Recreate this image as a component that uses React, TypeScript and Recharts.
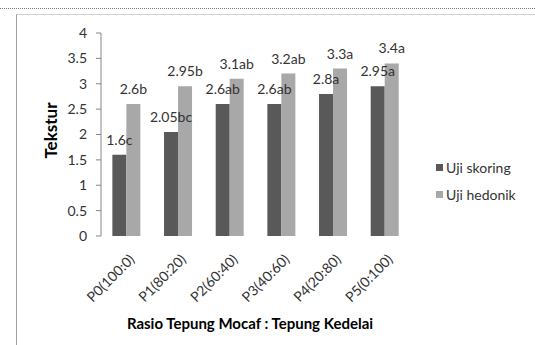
import React from "react";
import { BarChart, Bar, XAxis, YAxis, LabelList } from "recharts";

const categories = [
  "P0(100:0)",
  "P1(80:20)",
  "P2(60:40)",
  "P3(40:60)",
  "P4(20:80)",
  "P5(0:100)",
];
const skoring = [1.6, 2.05, 2.6, 2.6, 2.8, 2.95];
const hedonik = [2.6, 2.95, 3.1, 3.2, 3.3, 3.4];
const skoringNotes = ["c", "bc", "ab", "ab", "a", "a"];
const hedonikNotes = ["b", "b", "ab", "ab", "a", "a"];
const yTicks = [0, 0.5, 1, 1.5, 2, 2.5, 3, 3.5, 4];
const edgeTicks = [0, 1, 2, 3, 4, 5, 6];

const data = categories.map((name, i) => ({
  name,
  skoring: skoring[i],
  hedonik: hedonik[i],
  skoringLabel: `${skoring[i]}${skoringNotes[i]}`,
  hedonikLabel: `${hedonik[i]}${hedonikNotes[i]}`,
}));

const FONT = "Lato, 'Liberation Sans', sans-serif";
const DARK = "#595959";
const LIGHT = "#a8a8a8";
const AXIS = "#868686";

const CategoryTick = (props: any) => {
  const { x, y, payload } = props;
  const ax = x + 5;
  const ay = y + 13;
  return (
    <text
      x={ax}
      y={ay}
      dy="0.35em"
      textAnchor="end"
      fontSize={14}
      fontFamily={FONT}
      fill="#333"
      transform={`rotate(-45, ${ax}, ${ay})`}
    >
      {payload.value}
    </text>
  );
};

const legendItems = [
  { label: "Uji skoring", color: DARK },
  { label: "Uji hedonik", color: LIGHT },
];

export default function App() {
  return (
    <div
      style={{
        position: "absolute",
        left: 0,
        top: 0,
        width: 535,
        height: 345,
        background: "#fff",
        overflow: "hidden",
      }}
    >
      <div
        style={{
          position: "absolute",
          left: 0,
          top: 8,
          width: 535,
          borderTop: "1px dotted #777",
        }}
      />
      <div
        style={{
          position: "absolute",
          left: 16,
          top: 14,
          width: 519,
          height: 331,
          borderTop: "1px solid #d0d0d0",
          borderLeft: "1px solid #a0a0a0",
        }}
      />
      <div style={{ position: "absolute", left: 0, top: 0 }}>
        <BarChart
          width={535}
          height={345}
          data={data}
          margin={{ top: 33, right: 124, bottom: 0, left: 35 }}
          barCategoryGap="22%"
          barGap={0}
        >
          <XAxis
            xAxisId="edge"
            type="number"
            domain={[0, 6]}
            ticks={edgeTicks}
            tick={false}
            height={0}
            stroke={AXIS}
            tickSize={5}
            allowDataOverflow
          />
          <XAxis
            xAxisId="cat"
            dataKey="name"
            height={109}
            axisLine={false}
            tickLine={false}
            tick={<CategoryTick />}
            interval={0}
            label={{
              value: "Rasio Tepung Mocaf : Tepung Kedelai",
              position: "insideBottom",
              offset: 16,
              dx: -6,
              style: {
                fontFamily: FONT,
                fontSize: 15,
                fontWeight: 700,
                fill: "#000",
              },
            }}
          />
          <YAxis
            domain={[0, 4]}
            ticks={yTicks}
            interval={0}
            width={66}
            stroke={AXIS}
            tickSize={5}
            tickMargin={9}
            tick={{ fontFamily: FONT, fontSize: 14, fill: "#333" }}
            label={{
              value: "Tekstur",
              angle: -90,
              position: "insideLeft",
              offset: 16,
              dy: -4,
              style: {
                textAnchor: "middle",
                fontFamily: FONT,
                fontSize: 17,
                fontWeight: 700,
                fill: "#000",
              },
            }}
          />
          <Bar
            xAxisId="cat"
            dataKey="skoring"
            name="Uji skoring"
            fill={DARK}
            isAnimationActive={false}
          >
            <LabelList
              dataKey="skoringLabel"
              position="top"
              offset={10}
              style={{ fontFamily: FONT, fontSize: 14, fill: "#333" }}
            />
          </Bar>
          <Bar
            xAxisId="cat"
            dataKey="hedonik"
            name="Uji hedonik"
            fill={LIGHT}
            isAnimationActive={false}
          >
            <LabelList
              dataKey="hedonikLabel"
              position="top"
              offset={10}
              style={{ fontFamily: FONT, fontSize: 14, fill: "#333" }}
            />
          </Bar>
        </BarChart>
      </div>
      <div
        style={{
          position: "absolute",
          left: 436,
          top: 154,
          fontFamily: FONT,
          fontSize: 14,
          color: "#333",
        }}
      >
        {legendItems.map((it) => (
          <div
            key={it.label}
            style={{ display: "flex", alignItems: "center", height: 27 }}
          >
            <span
              style={{
                display: "inline-block",
                width: 7,
                height: 7,
                background: it.color,
                marginRight: 3,
              }}
            />
            <span>{it.label}</span>
          </div>
        ))}
      </div>
    </div>
  );
}
